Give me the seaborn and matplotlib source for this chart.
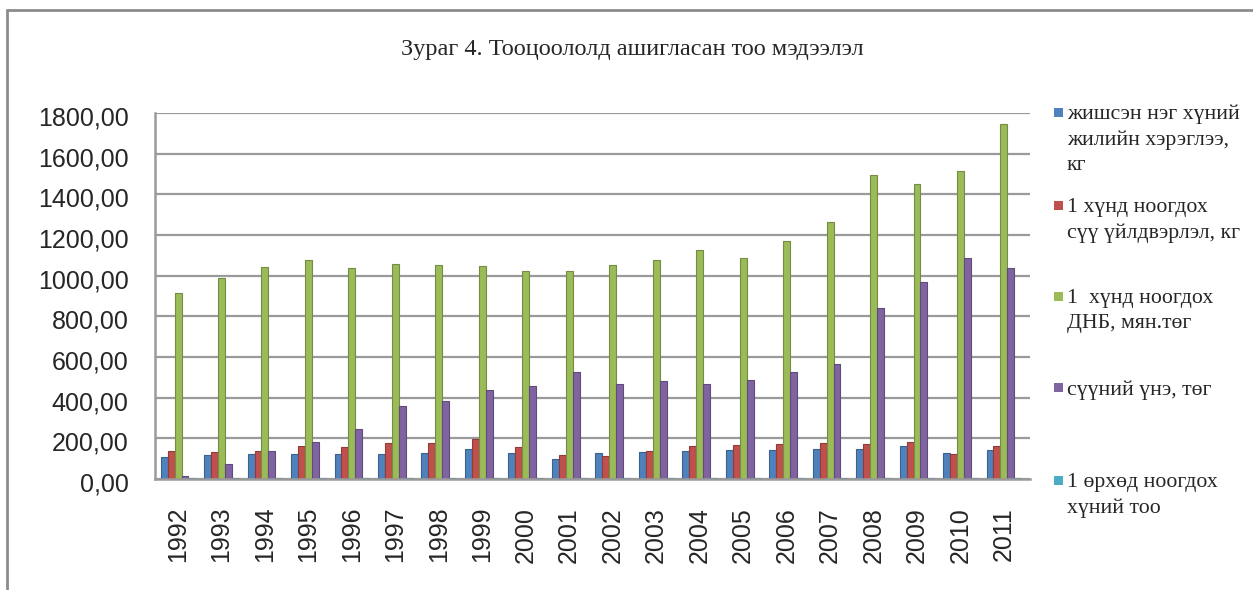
import matplotlib
matplotlib.use("Agg")
import matplotlib.pyplot as plt
from matplotlib.lines import Line2D
from matplotlib.patches import Rectangle
from matplotlib.transforms import ScaledTranslation
import seaborn as sns
import pandas as pd

years = [str(y) for y in range(1992, 2012)]
series_names = [
    "жишсэн нэг хүний\nжилийн хэрэглээ,\nкг",
    "1 хүнд ноогдох\nсүү үйлдвэрлэл, кг",
    "1  хүнд ноогдох\nДНБ, мян.төг",
    "сүүний үнэ, төг",
    "1 өрхөд ноогдох\nхүний тоо",
]
consumption = [107, 118, 125, 125, 125, 125, 126, 146, 130, 98,
               126, 131, 138, 141, 144, 146, 148, 161, 126, 144]
production = [139, 131, 138, 164, 159, 175, 177, 197, 156, 118,
              111, 139, 161, 167, 174, 177, 172, 180, 123, 164]
gdp = [913, 988, 1043, 1075, 1038, 1056, 1051, 1048, 1025, 1025,
       1052, 1075, 1126, 1089, 1169, 1266, 1497, 1451, 1516, 1748]
milk_price = [15, 72, 139, 182, 248, 361, 385, 439, 457, 525,
              466, 482, 466, 487, 525, 566, 841, 970, 1087, 1038]
household = [4.3, 4.2, 4.2, 4.1, 4.1, 4.0, 4.0, 3.9, 3.9, 3.9,
             3.8, 3.8, 3.8, 3.7, 3.7, 3.7, 3.6, 3.6, 3.6, 3.6]
colors = ["#4F81BD", "#C0504D", "#9BBB59", "#8064A2", "#4BACC6"]
title = "Зураг 4. Тооцоололд ашигласан тоо мэдээлэл"
yticks = [0, 200, 400, 600, 800, 1000, 1200, 1400, 1600, 1800]

all_series = [consumption, production, gdp, milk_price, household]
rows = []
for name, vals in zip(series_names, all_series):
    for yr, v in zip(years, vals):
        rows.append({"year": yr, "series": name, "value": v})
df = pd.DataFrame(rows)

sns.set_theme(style="white")
plt.rcParams["font.family"] = ["Liberation Sans", "DejaVu Sans"]

W, H = 1253, 590
fig = plt.figure(figsize=(W / 100, H / 100), dpi=100)
ax = fig.add_axes([155 / W, 1 - 479 / H, (1030 - 155) / W, (479 - 113) / H])

sns.barplot(data=df, x="year", y="value", hue="series", hue_order=series_names,
            order=years, palette=colors, width=0.8, ax=ax, legend=False,
            saturation=1, edgecolor=None, linewidth=0)

# darker outline for a light 3D feel
for patch in ax.patches:
    fc = patch.get_facecolor()
    patch.set_edgecolor((fc[0] * 0.75, fc[1] * 0.75, fc[2] * 0.75, 1))
    patch.set_linewidth(0.8)

ax.set_xlim(-0.53, 19.6)
ax.set_ylim(0, 1800)
ax.set_yticks(yticks)
ax.set_yticklabels([f"{v},00" for v in yticks], fontsize=18)
ax.tick_params(axis="y", length=0, pad=19)
ax.tick_params(axis="x", length=0, pad=20, labelsize=18, rotation=90)
for lab in ax.get_yticklabels():
    lab.set_transform(lab.get_transform() + ScaledTranslation(0, -0.03, fig.dpi_scale_trans))
ax.set_xlabel("")
ax.set_ylabel("")
ax.grid(axis="y", color="#9a9a9a", linewidth=1.6)
ax.set_axisbelow(True)
for s in ["top", "right"]:
    ax.spines[s].set_visible(False)
for s in ["left", "bottom"]:
    ax.spines[s].set_color("#9a9a9a")
    ax.spines[s].set_linewidth(1.8)

fig.text(632 / W, 1 - 50 / H, title, ha="center", va="center",
         fontsize=17.5, family=["Liberation Serif", "DejaVu Serif"])

# legend
leg_y = [113, 206, 297, 388, 481]
for name, col, y in zip(series_names, colors, leg_y):
    fig.patches.append(Rectangle((1054 / W, 1 - (y + 4) / H), 9 / W, 9 / H,
                                 transform=fig.transFigure, facecolor=col,
                                 edgecolor="none"))
    fig.text(1067 / W, 1 - (y - 8) / H, name, ha="left", va="top",
             fontsize=15.7, linespacing=1.42,
             family=["Liberation Serif", "DejaVu Serif"])

# outer frame (left and top edges visible)
fig.add_artist(Line2D([7 / W, 7 / W], [1 - 10 / H, -0.1], transform=fig.transFigure,
                      color="#8c8c8c", linewidth=2))
fig.add_artist(Line2D([7 / W, 1.1], [1 - 10 / H, 1 - 10 / H], transform=fig.transFigure,
                      color="#8c8c8c", linewidth=2))

fig.savefig("out.png", dpi=100)
